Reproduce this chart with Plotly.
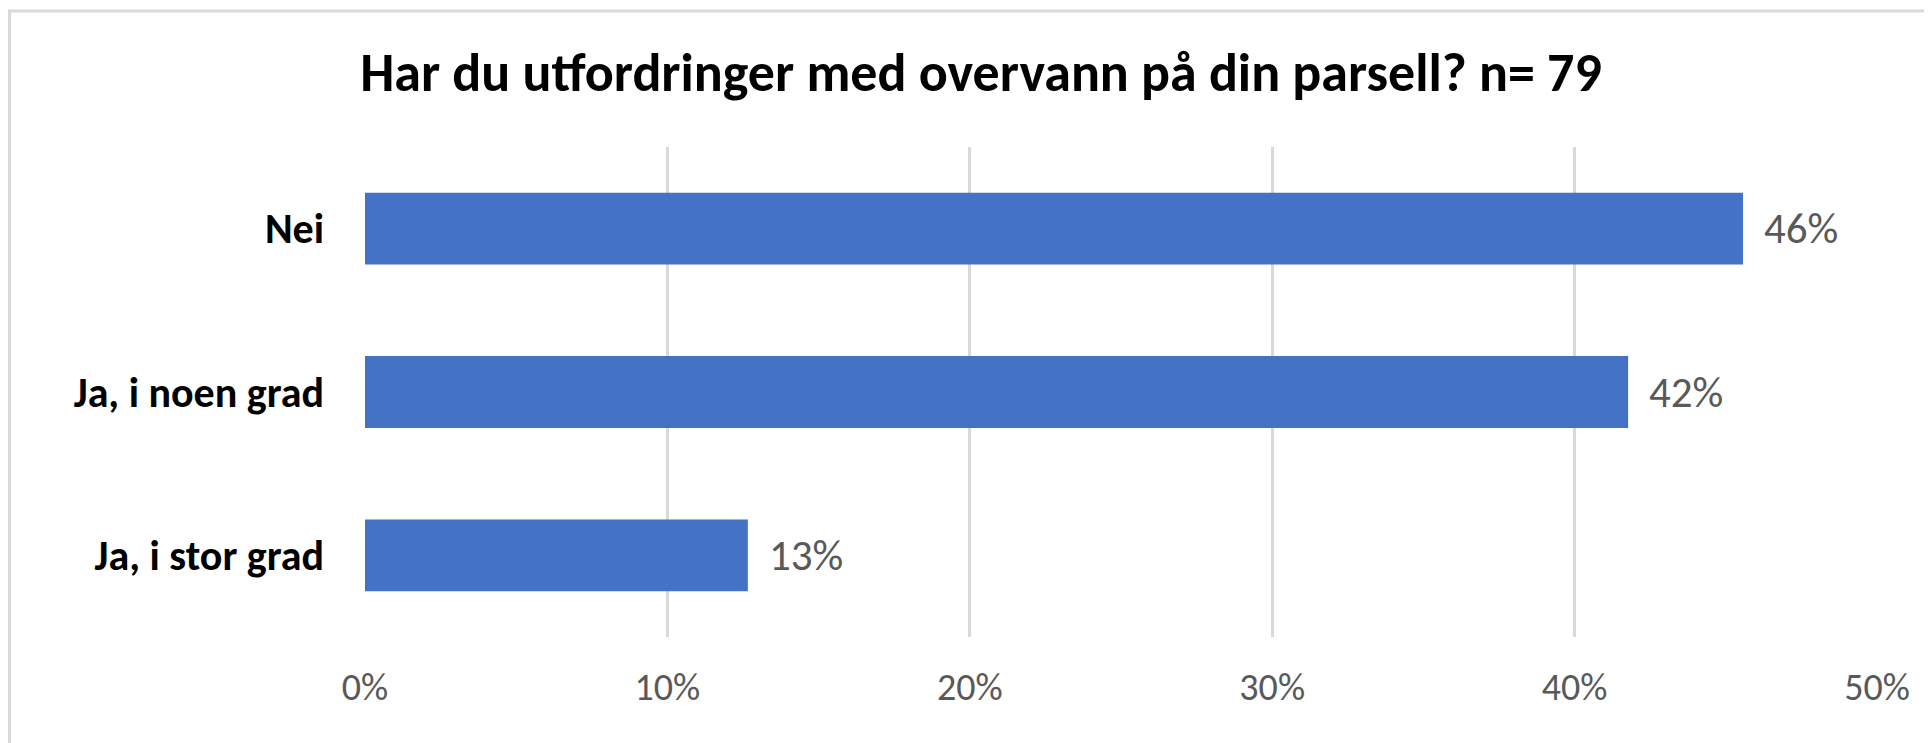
import plotly.graph_objects as go

categories = ["Nei", "Ja, i noen grad", "Ja, i stor grad"]
values = [0.4557, 0.4177, 0.1266]
labels = ["46%", "42%", "13%"]
tick_vals = [0, 0.1, 0.2, 0.3, 0.4, 0.5]
tick_text = ["0%", "10%", "20%", "30%", "40%", "50%"]
title_text = "Har du utfordringer med overvann på din parsell? n= 79"

# page body adds an 8px margin, so the figure is sized/offset to compensate
OFF = 8
W, H = 1932 - OFF, 743 - OFF
L, R, T, B = 365 - OFF, 55, 147 - OFF, 106
FONT = "Carlito, Lato, Open Sans, sans-serif"

fig = go.Figure()
fig.add_trace(go.Bar(
    x=values, y=categories, orientation="h",
    marker=dict(color="#4472C4", line=dict(width=0)),
    hoverinfo="skip",
))

for v, c, t in zip(values, categories, labels):
    fig.add_annotation(x=v, y=c, text=t, showarrow=False, xanchor="left",
                       xshift=19, font=dict(family=FONT, size=43, color="#595959"))

pw = W - L - R
ph = H - T - B
def px2x(px):
    return (px - L) / pw
def py2y(py):
    return (H - B - py) / ph

fig.add_shape(type="rect", xref="paper", yref="paper",
              x0=px2x(1.5), x1=px2x(1960), y0=py2y(3), y1=py2y(790),
              line=dict(color="#d9d9d9", width=3), fillcolor="rgba(0,0,0,0)", layer="below")

fig.update_layout(
    width=W, height=H,
    margin=dict(l=L, r=R, t=T, b=B, pad=0),
    paper_bgcolor="white", plot_bgcolor="white",
    showlegend=False,
    bargap=0.56,
    title=dict(text="<b>" + title_text + "</b>", x=(981 - OFF) / W, xanchor="center",
               y=1 - (72 - OFF) / H, yanchor="middle",
               font=dict(family=FONT, size=54, color="black")),
    xaxis=dict(range=[0, 0.5], tickvals=tick_vals, ticktext=tick_text,
               showgrid=True, gridcolor="#d9d9d9", gridwidth=2.5,
               zeroline=False, showline=False, ticks="",
               tickfont=dict(family=FONT, size=38, color="#595959"),
               ticklabelstandoff=24, fixedrange=True, automargin=False),
    yaxis=dict(categoryorder="array", categoryarray=categories[::-1],
               showgrid=False, zeroline=False, showline=False, ticks="",
               tickfont=dict(family=FONT, size=42, color="black", weight="bold"),
               ticklabelstandoff=40, fixedrange=True, automargin=False),
)

fig.write_html("out.html", config={"displayModeBar": False})
